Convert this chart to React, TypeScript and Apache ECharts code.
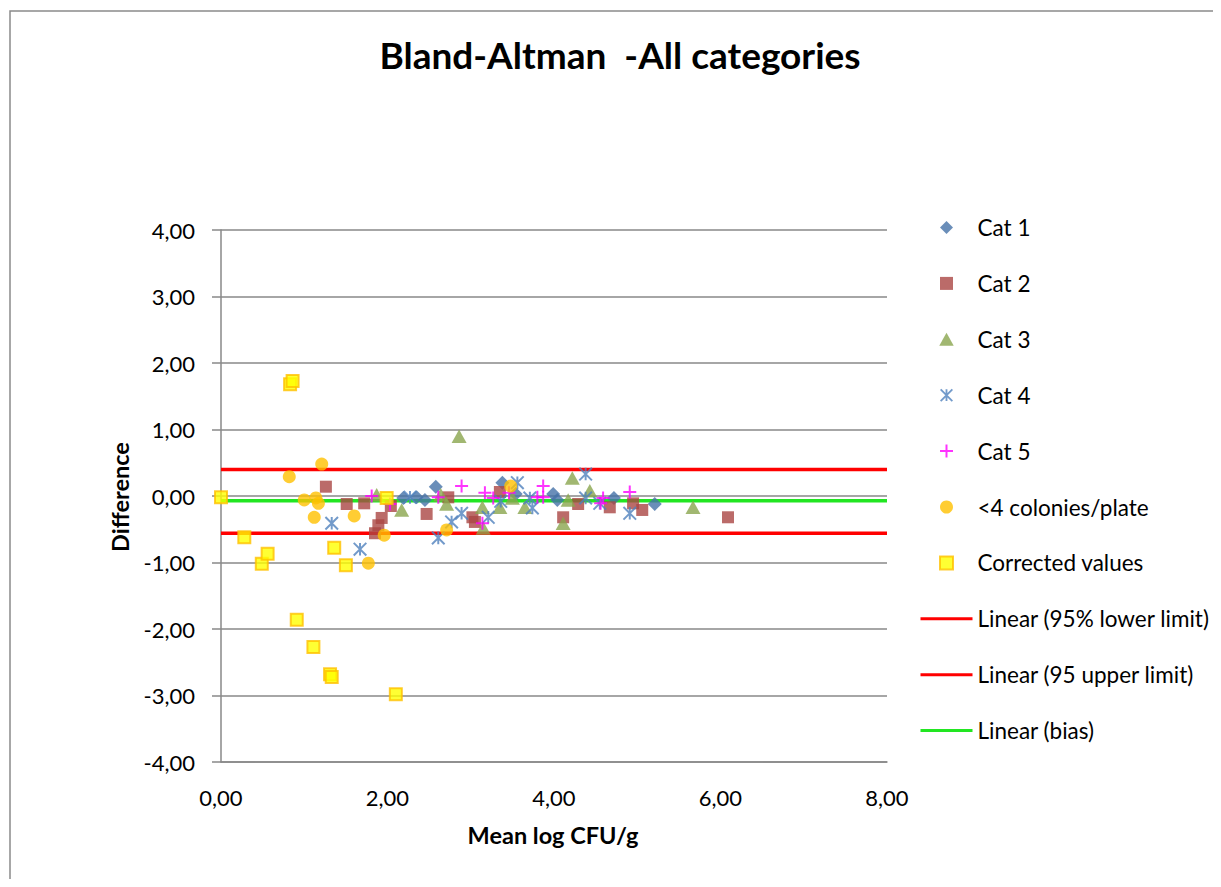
import React, { useEffect, useRef } from "react";
import * as echarts from "echarts";

// ---- data (mean log CFU/g, difference) ----
const cat1: [number, number][] = [
  [2.19, -0.03], [2.35, -0.02], [2.45, -0.06], [2.58, 0.14], [3.38, 0.2],
  [3.54, 0.03], [3.99, 0.03], [4.04, -0.06], [4.72, -0.03], [5.21, -0.12],
];
const cat2: [number, number][] = [
  [1.26, 0.14], [1.51, -0.12], [1.72, -0.11], [2.04, -0.15], [1.93, -0.33],
  [1.89, -0.44], [1.85, -0.56], [2.47, -0.27], [2.73, -0.02], [3.02, -0.32],
  [3.05, -0.39], [3.35, 0.06], [4.11, -0.32], [4.29, -0.12], [4.67, -0.17],
  [4.95, -0.11], [5.06, -0.21], [6.09, -0.32],
];
const cat3: [number, number][] = [
  [1.87, 0.02], [2.86, 0.9], [2.17, -0.21], [2.64, 0.02], [2.71, -0.12],
  [3.14, -0.17], [3.15, -0.48], [3.35, -0.17], [3.5, -0.03], [3.65, -0.17],
  [4.22, 0.27], [4.17, -0.06], [4.11, -0.41], [4.43, 0.08], [5.67, -0.17],
];
const cat4: [number, number][] = [
  [1.33, -0.41], [1.67, -0.8], [2.27, -0.02], [2.61, -0.63], [2.77, -0.39],
  [2.89, -0.26], [3.21, -0.32], [3.36, -0.08], [3.56, 0.2], [3.71, -0.03],
  [3.74, -0.18], [4.38, 0.33], [4.38, -0.03], [4.55, -0.11], [4.91, -0.26],
];
const cat5: [number, number][] = [
  [1.81, 0.0], [2.03, -0.12], [2.61, -0.02], [2.89, 0.15], [3.17, 0.05],
  [3.27, -0.03], [3.14, -0.41], [3.46, 0.05], [3.8, -0.02], [3.87, 0.15],
  [3.87, -0.02], [4.59, -0.03], [4.56, -0.11], [4.91, 0.06],
];
const fewColonies: [number, number][] = [
  [0.82, 0.29], [1.21, 0.48], [1.0, -0.06], [1.14, -0.03], [1.17, -0.11],
  [1.12, -0.32], [1.6, -0.3], [1.96, -0.59], [1.77, -1.01], [2.71, -0.51],
  [3.48, 0.15],
];
const corrected: [number, number][] = [
  [0.0, -0.02], [0.28, -0.62], [0.49, -1.02], [0.56, -0.87], [0.83, 1.68],
  [0.86, 1.73], [0.91, -1.86], [1.11, -2.27], [1.31, -2.68], [1.33, -2.72],
  [1.36, -0.78], [1.5, -1.04], [1.99, -0.03], [2.1, -2.98],
];
const lowerLimit = -0.56;
const upperLimit = 0.4;
const bias = -0.07;
const xRange = [0, 8];
const yRange = [-4, 4];

const seriesNames = [
  "Cat 1", "Cat 2", "Cat 3", "Cat 4", "Cat 5",
  "<4 colonies/plate", "Corrected values",
  "Linear (95% lower limit)", "Linear (95 upper limit)", "Linear (bias)",
];

const FONT = "Lato, 'Open Sans', sans-serif";
const fmt = (v: number) => v.toFixed(2).replace(".", ",");

const DIAMOND = "path://M5,0L10,5L5,10L0,5Z";
const SQUARE = "path://M0,0H10V10H0Z";
const TRIANGLE = "path://M5,0L10,9L0,9Z";
const PLUS = "path://M5.5,0H7.5V5.5H13V7.5H7.5V13H5.5V7.5H0V5.5H5.5Z";
const ASTERISK =
  "path://M5.9,0H8.1V14H5.9Z" +
  "M0.78,-0.78L14.78,13.22L13.22,14.78L-0.78,0.78Z" +
  "M13.22,-0.78L14.78,0.78L0.78,14.78L-0.78,13.22Z";

function scatter(name: string, data: [number, number][], symbol: string, size: number, itemStyle: any) {
  return {
    name,
    type: "scatter",
    data,
    symbol,
    symbolSize: size,
    symbolKeepAspect: true,
    itemStyle,
    clip: false,
    z: 3,
  };
}

function hline(name: string, v: number, color: string) {
  return {
    name,
    type: "line",
    data: [[xRange[0], v], [xRange[1], v]],
    symbol: "none",
    showSymbol: false,
    lineStyle: { color, width: 3.5 },
    itemStyle: { color: "rgba(0,0,0,0)", borderWidth: 0, borderColor: "rgba(0,0,0,0)" },
    silent: true,
    z: 1,
  };
}

export default function App() {
  const ref = useRef<HTMLDivElement>(null);
  useEffect(() => {
    if (!ref.current) return;
    const chart = echarts.init(ref.current, undefined, { renderer: "svg" });
    const axisColor = "#888888";
    chart.setOption({
      animation: false,
      textStyle: { fontFamily: FONT },
      grid: { left: 213, top: 222, width: 666, height: 532 },
      xAxis: {
        type: "value",
        min: xRange[0],
        max: xRange[1],
        interval: 2,
        axisLine: { onZero: false, lineStyle: { color: axisColor, width: 1.5 } },
        axisTick: { show: false },
        splitLine: { show: false },
        axisLabel: { formatter: fmt, fontSize: 22, color: "#000", margin: 24, fontFamily: FONT },
      },
      yAxis: {
        type: "value",
        min: yRange[0],
        max: yRange[1],
        interval: 1,
        axisLine: { show: true, onZero: false, lineStyle: { color: axisColor, width: 1.5 } },
        axisTick: { show: true, length: 9, lineStyle: { color: axisColor, width: 1.5 } },
        splitLine: { show: true, lineStyle: { color: axisColor, width: 1.5 } },
        axisLabel: { formatter: fmt, fontSize: 22, color: "#000", margin: 26, fontFamily: FONT },
      },
      legend: {
        orient: "vertical",
        left: 906,
        top: 203,
        itemWidth: 52,
        itemHeight: 13,
        itemGap: 32.9,
        selectedMode: false,
        lineStyle: { width: 3 },
        textStyle: { fontSize: 22.5, lineHeight: 20, color: "#000", fontFamily: FONT },
        data: seriesNames,
      },
      graphic: [
        {
          type: "rect",
          silent: true,
          z: -10,
          shape: { x: 2, y: 3, width: 1400, height: 1200 },
          style: { fill: "none", stroke: "#8a8a8a", lineWidth: 1.5 },
        },
        {
          type: "text",
          x: 612,
          y: 46,
          style: {
            text: "Bland-Altman  -All categories",
            fontSize: 37,
            fontWeight: "bold",
            fontFamily: FONT,
            fill: "#000",
            align: "center",
            verticalAlign: "middle",
          },
        },
        {
          type: "text",
          x: 112,
          y: 489,
          rotation: Math.PI / 2,
          style: {
            text: "Difference",
            fontSize: 23.5,
            fontWeight: "bold",
            fontFamily: FONT,
            fill: "#000",
            align: "center",
            verticalAlign: "middle",
          },
        },
        {
          type: "text",
          x: 545,
          y: 827,
          style: {
            text: "Mean log CFU/g",
            fontSize: 23.5,
            fontWeight: "bold",
            fontFamily: FONT,
            fill: "#000",
            align: "center",
            verticalAlign: "middle",
          },
        },
      ],
      series: [
        scatter(seriesNames[0], cat1, DIAMOND, 14, { color: "#4572A7" }),
        scatter(seriesNames[1], cat2, SQUARE, 12, { color: "#AA4643" }),
        scatter(seriesNames[2], cat3, TRIANGLE, 15, { color: "#89A54E" }),
        scatter(seriesNames[3], cat4, ASTERISK, 14, { color: "#4F81BD" }),
        scatter(seriesNames[4], cat5, PLUS, 13, { color: "#FF00FF" }),
        scatter(seriesNames[5], fewColonies, "circle", 13, { color: "#FFC000" }),
        scatter(seriesNames[6], corrected, SQUARE, 12, {
          color: "#FFFF00",
          borderColor: "#FFC000",
          borderWidth: 2,
        }),
        hline(seriesNames[7], lowerLimit, "#FF0000"),
        hline(seriesNames[8], upperLimit, "#FF0000"),
        hline(seriesNames[9], bias, "#22E622"),
      ],
    });
    return () => chart.dispose();
  }, []);
  return <div ref={ref} style={{ width: 1205, height: 871 }} />;
}
